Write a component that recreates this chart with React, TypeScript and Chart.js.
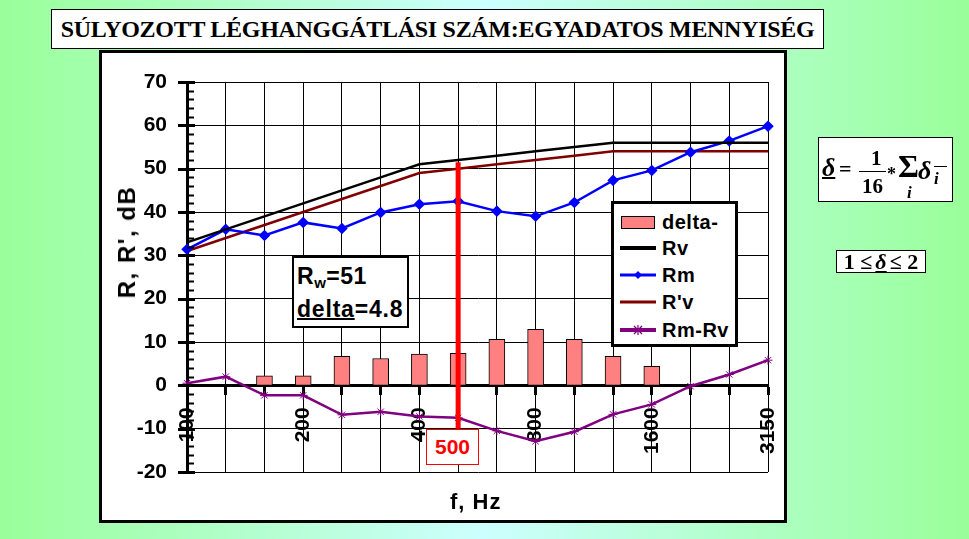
import React, { useEffect, useRef } from "react";
import { Chart, registerables } from "chart.js";

Chart.register(...registerables);

const frequencies = ["100", "125", "160", "200", "250", "315", "400", "500", "630", "800", "1000", "1250", "1600", "2000", "2500", "3150"];
const labeledFrequencies = ["100", "200", "400", "800", "1600", "3150"];
const rvValues = [33, 36, 39, 42, 45, 48, 51, 52, 53, 54, 55, 56, 56, 56, 56, 56];
const rPrimeVValues = [31, 34, 37, 40, 43, 46, 49, 50, 51, 52, 53, 54, 54, 54, 54, 54];
const rmValues = [31.4, 36, 34.6, 37.6, 36.2, 39.9, 41.8, 42.5, 40.2, 39.0, 42.2, 47.3, 49.6, 53.8, 56.4, 59.8];
const rmMinusRvValues = [0.5, 2, -2.3, -2.3, -6.8, -6.1, -7.2, -7.5, -10.5, -12.9, -10.7, -6.7, -4.4, -0.2, 2.5, 5.8];
const deltaValues = [null, null, 2.2, 2.2, 6.7, 6.2, 7.2, 7.4, 10.6, 12.9, 10.6, 6.7, 4.4, null, null, null];
const yMin = -20;
const yMax = 70;
const yStep = 10;
const yMinorStep = 2;
const markerFrequency = "500";
const markerFrom = -10;
const markerTo = 51.5;

const SANS = "'Liberation Sans', Arial, sans-serif";
const SERIF = "'Liberation Serif', 'Times New Roman', serif";

const axisDecor = {
  id: "axisDecor",
  afterDraw(chart: any) {
    const y = chart.scales.y;
    const ctx = chart.ctx;
    const left = chart.chartArea.left;
    ctx.save();
    ctx.strokeStyle = "#000";
    for (let v = yMin; v <= yMax; v += yMinorStep) {
      const py = Math.round(y.getPixelForValue(v)) + 0.5;
      const major = v % yStep === 0;
      ctx.lineWidth = major ? 3 : 2;
      ctx.beginPath();
      ctx.moveTo(major ? left - 9 : left, py);
      ctx.lineTo(left + (major ? 8 : 7), py);
      ctx.stroke();
    }
    ctx.restore();
  },
};

function LegendSymbol({ kind }: { kind: string }) {
  if (kind === "bar") {
    return (
      <svg width={38} height={16}>
        <rect x={1.5} y={2.5} width={33} height={12} fill="#FF8080" stroke="#000" strokeWidth={1} />
      </svg>
    );
  }
  const colors: Record<string, string> = { rv: "#000", rm: "#0000FF", rpv: "#800000", diff: "#800080" };
  const widths: Record<string, number> = { rv: 4, rm: 3, rpv: 3, diff: 4 };
  const c = colors[kind];
  return (
    <svg width={38} height={16}>
      <line x1={0} y1={8} x2={36} y2={8} stroke={c} strokeWidth={widths[kind]} />
      {kind === "rm" && <polygon points="18,4 22,8 18,12 14,8" fill={c} />}
      {kind === "diff" && (
        <g stroke={c} strokeWidth={1.2}>
          <line x1={14} y1={4} x2={22} y2={12} />
          <line x1={22} y1={4} x2={14} y2={12} />
          <line x1={18} y1={3} x2={18} y2={13} />
        </g>
      )}
    </svg>
  );
}

export default function App() {
  const canvasRef = useRef<HTMLCanvasElement | null>(null);

  useEffect(() => {
    const canvas = canvasRef.current;
    if (!canvas) return;
    const tickFont = { family: SANS, size: 21, weight: "bold" as const };
    const chart = new Chart(canvas, {
      type: "line",
      data: {
        labels: frequencies,
        datasets: [
          {
            type: "line",
            label: "marker",
            data: [
              { x: markerFrequency, y: markerFrom },
              { x: markerFrequency, y: markerTo },
            ] as any,
            borderColor: "#FF0000",
            borderWidth: 5,
            pointRadius: 0,
            order: 0,
          },
          {
            type: "line",
            label: "Rv",
            data: rvValues,
            borderColor: "#000000",
            borderWidth: 2.5,
            pointRadius: 0,
            order: 1,
          },
          {
            type: "line",
            label: "Rm",
            data: rmValues,
            borderColor: "#0000FF",
            backgroundColor: "#0000FF",
            borderWidth: 2.5,
            pointStyle: "rectRot",
            pointRadius: 4,
            pointBackgroundColor: "#0000FF",
            pointBorderColor: "#0000FF",
            order: 1,
          },
          {
            type: "line",
            label: "R'v",
            data: rPrimeVValues,
            borderColor: "#800000",
            borderWidth: 2.5,
            pointRadius: 0,
            order: 1,
          },
          {
            type: "line",
            label: "Rm-Rv",
            data: rmMinusRvValues,
            borderColor: "#800080",
            borderWidth: 2.5,
            pointStyle: "star",
            pointRadius: 4.5,
            pointBorderColor: "#800080",
            pointBorderWidth: 1,
            order: 1,
          },
          {
            type: "bar",
            label: "delta-",
            data: deltaValues as any,
            backgroundColor: "#FF8080",
            borderColor: "#000000",
            borderWidth: 1,
            barThickness: 16,
            order: 5,
          },
        ],
      },
      options: {
        responsive: false,
        animation: false,
        devicePixelRatio: 1,
        layout: { padding: { left: 107, right: 201, top: 82, bottom: 67 } },
        plugins: { legend: { display: false }, tooltip: { enabled: false } },
        elements: { line: { tension: 0 } },
        scales: {
          x: {
            type: "category",
            offset: false,
            position: { y: 0 } as any,
            grid: {
              color: "#000",
              lineWidth: 1,
              offset: false,
              drawTicks: true,
              tickLength: 8,
              tickWidth: 3,
              tickColor: "#000",
            },
            border: { color: "#000", width: 3 },
            ticks: {
              autoSkip: false,
              maxRotation: 90,
              minRotation: 90,
              padding: 14,
              color: "#000",
              font: tickFont,
              callback: (_v: any, i: number) =>
                labeledFrequencies.includes(frequencies[i]) ? frequencies[i] : "",
            },
          },
          y: {
            min: yMin,
            max: yMax,
            afterFit: (s: any) => {
              s.width = 80;
            },
            grid: { color: "#000", lineWidth: 1, drawTicks: false },
            border: { color: "#000", width: 3 },
            ticks: { stepSize: yStep, padding: 20, color: "#000", font: tickFont },
          },
        },
      },
      plugins: [axisDecor],
    });
    return () => chart.destroy();
  }, []);

  const abs = (l: number, t: number, extra: any = {}) => ({ position: "absolute" as const, left: l, top: t, ...extra });

  return (
    <div
      style={{
        position: "absolute",
        left: 0,
        top: 0,
        width: 969,
        height: 539,
        overflow: "hidden",
        background: "linear-gradient(to right, #99FF99 0%, #CCFFFF 50%, #99FF99 100%)",
        fontFamily: SANS,
      }}
    >
      {/* chart box */}
      <div style={abs(99, 50, { width: 688, height: 473, boxSizing: "border-box", border: "3px solid #000", background: "#fff" })} />
      <canvas ref={canvasRef} width={969} height={539} style={abs(0, 0, { width: 969, height: 539 })} />

      {/* title */}
      <div
        style={abs(51, 9, {
          width: 773,
          height: 40,
          boxSizing: "border-box",
          border: "1.5px solid #000",
          background: "#fff",
          display: "flex",
          alignItems: "center",
          justifyContent: "center",
          fontFamily: SERIF,
          fontWeight: "bold",
          fontSize: 24,
          whiteSpace: "nowrap",
          letterSpacing: -0.3,
        })}
      >
        SÚLYOZOTT LÉGHANGGÁTLÁSI SZÁM:EGYADATOS MENNYISÉG
      </div>

      {/* y axis title */}
      <div
        style={abs(127, 242, {
          transform: "translate(-50%, -50%) rotate(-90deg)",
          fontWeight: "bold",
          fontSize: 24,
          whiteSpace: "nowrap",
          lineHeight: 1,
          letterSpacing: 1.5,
        })}
      >
        R, R', dB
      </div>

      {/* x axis title */}
      <div style={abs(450, 491, { fontWeight: "bold", fontSize: 22, lineHeight: 1, whiteSpace: "nowrap", letterSpacing: 1 })}>
        f, Hz
      </div>

      {/* 500 label */}
      <div
        style={abs(426, 429, {
          width: 53,
          height: 36,
          boxSizing: "border-box",
          border: "1px solid #FF0000",
          background: "#fff",
          color: "#FF0000",
          fontWeight: "bold",
          fontSize: 21,
          display: "flex",
          alignItems: "center",
          justifyContent: "center",
        })}
      >
        500
      </div>

      {/* Rw box */}
      <div
        style={abs(292, 256, {
          width: 117,
          height: 72,
          boxSizing: "border-box",
          border: "2px solid #000",
          background: "#fff",
        })}
      />
      <div style={abs(297, 265, { fontWeight: "bold", fontSize: 23, lineHeight: 1, whiteSpace: "nowrap", letterSpacing: 0.5 })}>
        R<sub style={{ fontSize: 15, verticalAlign: "-4px" }}>w</sub>=51
      </div>
      <div style={abs(297, 298, { fontWeight: "bold", fontSize: 23, lineHeight: 1, whiteSpace: "nowrap", letterSpacing: 0.8 })}>
        <span style={{ textDecoration: "underline", textDecorationThickness: 2 }}>delta</span>=4.8
      </div>

      {/* legend */}
      <div
        style={abs(611, 201, {
          width: 127,
          height: 146,
          boxSizing: "border-box",
          border: "3px solid #000",
          background: "#fff",
        })}
      />
      {[
        { kind: "bar", text: "delta-", cy: 222 },
        { kind: "rv", text: "Rv", cy: 248 },
        { kind: "rm", text: "Rm", cy: 275 },
        { kind: "rpv", text: "R'v", cy: 302 },
        { kind: "diff", text: "Rm-Rv", cy: 330 },
      ].map((it) => (
        <div
          key={it.text}
          style={abs(620, it.cy - 12, {
            height: 24,
            display: "flex",
            alignItems: "center",
            fontWeight: "bold",
            fontSize: 20,
            whiteSpace: "nowrap",
            letterSpacing: 0.5,
          })}
        >
          <LegendSymbol kind={it.kind} />
          <span style={{ marginLeft: 4 }}>{it.text}</span>
        </div>
      ))}

      {/* formula box */}
      <div
        style={abs(818, 137, {
          width: 135,
          height: 65,
          boxSizing: "border-box",
          border: "1px solid #000",
          background: "#fff",
          fontFamily: SERIF,
          fontWeight: "bold",
        })}
      >
        <span style={abs(3, 17, { fontSize: 26, fontStyle: "italic", lineHeight: 1, textDecoration: "underline", textDecorationThickness: 1.5 })}>δ</span>
        <span style={abs(20, 20, { fontSize: 22, lineHeight: 1 })}>=</span>
        <span style={abs(52, 10, { fontSize: 21, lineHeight: 1 })}>1</span>
        <div style={abs(40, 33, { width: 27, borderTop: "1.5px solid #000" })} />
        <span style={abs(43, 38, { fontSize: 21, lineHeight: 1 })}>16</span>
        <span style={abs(68, 27, { fontSize: 18, lineHeight: 1 })}>*</span>
        <span style={abs(79, 12, { fontSize: 32, lineHeight: 1 })}>Σ</span>
        <span style={abs(88, 46, { fontSize: 17, fontStyle: "italic", lineHeight: 1 })}>i</span>
        <span style={abs(99, 20, { fontSize: 26, fontStyle: "italic", lineHeight: 1 })}>δ</span>
        <span style={abs(115, 32, { fontSize: 17, fontStyle: "italic", lineHeight: 1 })}>i</span>
        <div style={abs(115, 28, { width: 13, borderTop: "1.5px solid #000" })} />
      </div>

      {/* range box */}
      <div
        style={abs(836, 250, {
          width: 90,
          height: 23,
          boxSizing: "border-box",
          border: "1px solid #000",
          background: "#fff",
          fontFamily: SERIF,
          fontWeight: "bold",
          fontSize: 22,
          display: "flex",
          alignItems: "center",
          justifyContent: "center",
          whiteSpace: "nowrap",
          lineHeight: 1,
        })}
      >
        1 ≤ <span style={{ fontStyle: "italic", textDecoration: "underline", margin: "0 3px" }}>δ</span> ≤ 2
      </div>
    </div>
  );
}
